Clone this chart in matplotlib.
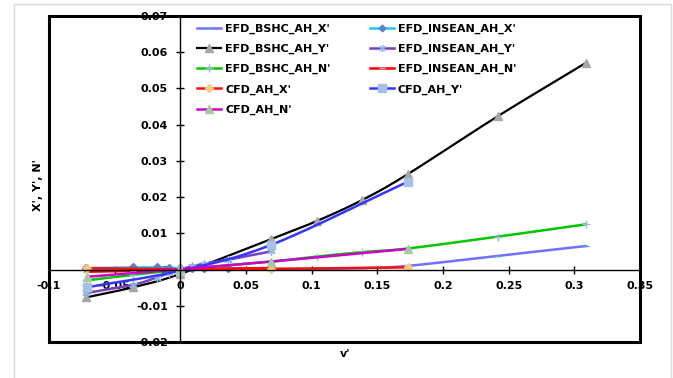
import matplotlib
matplotlib.use("Agg")
import matplotlib.pyplot as plt
import numpy as np
from matplotlib.lines import Line2D
from matplotlib.patches import Rectangle
from matplotlib.ticker import FuncFormatter, MultipleLocator

plt.rcParams['font.family'] = ['DejaVu Sans']
plt.rcParams['font.weight'] = 'bold'

# EFD (BSHC) measurements
v_bshc = [-0.072, -0.036, 0.0, 0.069, 0.104, 0.1385, 0.173, 0.242, 0.309]
x_bshc = [0.0002, 0.0001, 0.0, 0.0001, 0.0002, 0.0004, 0.0010, 0.0038, 0.0065]
y_bshc = [-0.0077, -0.0049, -0.0012, 0.0084, 0.0134, 0.0192, 0.0263, 0.0424, 0.0571]
n_bshc = [-0.0030, -0.0015, 0.0, 0.0022, 0.0036, 0.0048, 0.0058, 0.0091, 0.0125]

# EFD (INSEAN) measurements
v_insean = [-0.072, -0.036, -0.018, -0.009, 0.0, 0.009, 0.018, 0.036, 0.069]
x_insean = [0.0004, 0.0006, 0.0006, 0.0005, 0.0004, 0.0003, 0.0003, 0.0003, 0.0003]
y_insean = [-0.0065, -0.0042, -0.0022, -0.0010, 0.0, 0.0009, 0.0016, 0.0027, 0.0050]
n_insean = [-0.0006, -0.0004, -0.0002, -0.0001, 0.0, 0.0001, 0.0002, 0.0003, 0.0004]

# CFD results
v_cfd = [-0.071, 0.0, 0.069, 0.173]
x_cfd = [0.0004, 0.0001, 0.0002, 0.0006]
y_cfd = [-0.0049, -0.0003, 0.0068, 0.0242]
n_cfd = [-0.0020, 0.0001, 0.0022, 0.0057]


def smooth(x, y, n=24):
    # Catmull-Rom style smoothed line through the points
    x = np.asarray(x, float)
    y = np.asarray(y, float)
    px = np.concatenate([[2 * x[0] - x[1]], x, [2 * x[-1] - x[-2]]])
    py = np.concatenate([[2 * y[0] - y[1]], y, [2 * y[-1] - y[-2]]])
    xs, ys = [], []
    t = np.linspace(0, 1, n, endpoint=False)
    for i in range(1, len(px) - 2):
        p0, p1, p2, p3 = i - 1, i, i + 1, i + 2
        for arr, out in ((px, xs), (py, ys)):
            a0, a1, a2, a3 = arr[p0], arr[p1], arr[p2], arr[p3]
            out.extend(0.5 * (2 * a1 + (-a0 + a2) * t
                              + (2 * a0 - 5 * a1 + 4 * a2 - a3) * t ** 2
                              + (-a0 + 3 * a1 - 3 * a2 + a3) * t ** 3))
    xs.append(x[-1])
    ys.append(y[-1])
    return np.array(xs), np.array(ys)


fig = plt.figure(figsize=(6.73, 3.78), dpi=100)
fig.patches.append(Rectangle((14 / 673, -0.02), 657 / 673, 1.01, transform=fig.transFigure,
                             fill=False, edgecolor='#d9d9d9', lw=1.0))
ax = fig.add_axes([49 / 673, 36 / 378, 591 / 673, 326 / 378])

series = [
    (v_bshc, x_bshc, "EFD_BSHC_AH_X'", '#7070ff', 1.8, '_', '#4bacc6', 4),
    (v_insean, x_insean, "EFD_INSEAN_AH_X'", '#1ec8f0', 1.8, 'D', '#5b7fc8', 4),
    (v_bshc, y_bshc, "EFD_BSHC_AH_Y'", 'black', 1.6, '^', '#a6a6a6', 6),
    (v_insean, y_insean, "EFD_INSEAN_AH_Y'", '#7540c0', 1.8, (6, 2, 0), '#8fb4e3', 6),
    (v_bshc, n_bshc, "EFD_BSHC_AH_N'", '#00c800', 1.8, '+', '#9db8e0', 6),
    (v_insean, n_insean, "EFD_INSEAN_AH_N'", '#ff0000', 1.8, '_', '#d8a8a8', 5),
    (v_cfd, x_cfd, "CFD_AH_X'", '#ff1010', 1.8, 'D', '#ffc880', 4.5),
    (v_cfd, y_cfd, "CFD_AH_Y'", '#3535ff', 1.8, 's', '#a6c0e6', 6),
    (v_cfd, n_cfd, "CFD_AH_N'", '#cc00cc', 1.8, '^', '#a8c8a0', 6),
]

handles = []
for vx, vy, label, color, lw, marker, mcolor, ms in series:
    sx, sy = smooth(vx, vy)
    ax.plot(sx, sy, color=color, lw=lw, solid_capstyle='round')
    ax.plot(vx, vy, ls='none', marker=marker, markersize=ms, markerfacecolor=mcolor,
            markeredgecolor=mcolor, markeredgewidth=1.0)
    handles.append(Line2D([], [], color=color, lw=lw, marker=marker, markersize=ms * 0.85,
                          markerfacecolor=mcolor, markeredgecolor=mcolor,
                          markeredgewidth=1.0, label=label))

ax.set_xlim(-0.1, 0.35)
ax.set_ylim(-0.02, 0.07)

for side in ('top', 'right'):
    ax.spines[side].set_visible(False)
ax.spines['left'].set_position(('data', 0))
ax.spines['bottom'].set_position(('data', 0))
ax.spines['left'].set_linewidth(1.0)
ax.spines['bottom'].set_linewidth(1.0)
ax.add_patch(Rectangle((0, 0), 1, 1, transform=ax.transAxes, fill=False,
                       edgecolor='black', lw=2.2, zorder=5, clip_on=False))

fmt = FuncFormatter(lambda v, p: f"{v:g}" if abs(v) > 1e-9 else "0")
ax.xaxis.set_major_locator(MultipleLocator(0.05))
ax.yaxis.set_major_locator(MultipleLocator(0.01))
ax.xaxis.set_major_formatter(fmt)
ax.yaxis.set_major_formatter(fmt)
ax.tick_params(axis='both', direction='inout', length=6, width=1.0,
               labelsize=8, colors='black')
ax.tick_params(axis='x', pad=5)
ax.tick_params(axis='y', pad=6)
for lab in ax.get_xticklabels() + ax.get_yticklabels():
    lab.set_fontweight('bold')

order = [0, 2, 4, 6, 8, 1, 3, 5, 7]
ax.legend([handles[i] for i in order], [handles[i].get_label() for i in order],
          ncol=2, frameon=False, loc='upper left',
          bbox_to_anchor=(197 / 673, 1 - 23.5 / 378), bbox_transform=fig.transFigure,
          borderpad=0, borderaxespad=0, handlelength=2.2, handletextpad=0.35,
          columnspacing=3.5, labelspacing=0.9, prop={'size': 8, 'weight': 'bold'})

fig.text(38 / 673, 1 - 185 / 378, "X', Y', N'", rotation=90, ha='center', va='center',
         fontsize=8, fontweight='bold')
fig.text(345 / 673, 1 - 354 / 378, "v'", ha='center', va='center',
         fontsize=8, fontweight='bold')

fig.savefig('out.png', dpi=100)
